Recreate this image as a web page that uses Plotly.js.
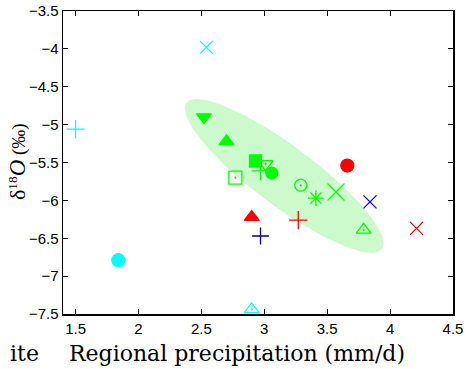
<!DOCTYPE html>
<html>
<head>
<meta charset="utf-8">
<script src="https://cdn.plot.ly/plotly-3.0.1.min.js"></script>
<style>html,body{margin:0;padding:0;background:#fff;}#chart{width:468px;height:369px;}</style>
</head>
<body>
<div id="chart"></div>
<script>
// Data points (regional precipitation mm/d, delta18O permil)
const cyanX = [2.54, 1.50, 1.84, 2.90];
const cyanY = [-3.98, -5.06, -6.79, -7.44];
const cyanSym = ['x-thin-open', 'cross-thin-open', 'circle', 'triangle-up-open-dot'];

const greenX = [2.52, 2.70, 2.93, 3.01, 2.97, 3.06, 2.77, 3.29, 3.41, 3.57, 3.79];
const greenY = [-4.90, -5.22, -5.48, -5.52, -5.61, -5.64, -5.70, -5.80, -5.97, -5.89, -6.39];
const greenSym = ['triangle-down', 'triangle-up', 'square', 'triangle-down-open-dot', 'cross-thin-open',
                  'circle', 'square-open-dot', 'circle-open-dot', 'asterisk-open', 'x-thin-open', 'triangle-up-open-dot'];
const greenSize = [13, 13, 12, 13, 13, 12, 13, 12, 13, 17, 13];

const redX = [3.66, 3.27, 4.21, 2.90];
const redY = [-5.54, -6.26, -6.37, -6.22];
const redSym = ['circle', 'cross-thin-open', 'x-thin-open', 'triangle-up'];

const blueX = [3.84];
const blueY = [-6.02];
const navyX = [2.97];
const navyY = [-6.47];

// Shaded ellipse (center and semi-axis vectors, data units)
const ellCenter = [3.158, -5.678];
const ellMajor = [0.777, -0.964];
const ellMinor = [-0.142, -0.317];

const ex = [], ey = [];
for (let i = 0; i <= 120; i++) {
  const t = 2 * Math.PI * i / 120;
  ex.push(ellCenter[0] + ellMajor[0] * Math.cos(t) + ellMinor[0] * Math.sin(t));
  ey.push(ellCenter[1] + ellMajor[1] * Math.cos(t) + ellMinor[1] * Math.sin(t));
}

const traces = [
  {x: ex, y: ey, mode: 'lines', fill: 'toself', fillcolor: '#ccfacc', line: {width: 0, color: '#ccfacc'}, hoverinfo: 'skip'},
  {x: cyanX, y: cyanY, mode: 'markers', marker: {symbol: cyanSym, size: [13, 13, 13, 13], opacity: 1, color: '#00ffff', line: {color: '#00ffff', width: 1.3}}},
  {x: greenX, y: greenY, mode: 'markers', marker: {symbol: greenSym, size: greenSize, opacity: 1, color: '#00ff00', line: {color: '#00ff00', width: 1.3}}},
  {x: redX, y: redY, mode: 'markers', marker: {symbol: redSym, size: [13, 13, 13, 13], opacity: 1, color: '#ff0000', line: {color: '#ff0000', width: 1.3}}},
  {x: blueX, y: blueY, mode: 'markers', marker: {symbol: 'x-thin-open', size: 13, opacity: 1, color: '#0000ff', line: {color: '#0000ff', width: 1.3}}},
  {x: navyX, y: navyY, mode: 'markers', marker: {symbol: 'cross-thin-open', size: 12, opacity: 1, color: '#000090', line: {color: '#000090', width: 1.3}}}
];

const axisCommon = {
  showline: true, linecolor: '#000', linewidth: 1.5, mirror: 'ticks',
  ticks: 'inside', ticklen: 5, tickwidth: 1, tickcolor: '#000',
  showgrid: false, zeroline: false,
  tickfont: {family: 'Liberation Sans, Arial, sans-serif', size: 15, color: '#000'}
};

const serif = 'DejaVu Serif, serif';

const layout = {
  width: 468, height: 369,
  margin: {l: 63, r: 15, t: 11, b: 55},
  paper_bgcolor: '#fff', plot_bgcolor: '#fff',
  showlegend: false,
  xaxis: Object.assign({}, axisCommon, {
    range: [1.4, 4.5], tickvals: [1.5, 2, 2.5, 3, 3.5, 4, 4.5], ticktext: ['1.5', '2', '2.5', '3', '3.5', '4', '4.5']
  }),
  yaxis: Object.assign({}, axisCommon, {
    range: [-7.5, -3.5], tickvals: [-7.5, -7, -6.5, -6, -5.5, -5, -4.5, -4, -3.5],
    ticktext: ['\u22127.5', '\u22127', '\u22126.5', '\u22126', '\u22125.5', '\u22125', '\u22124.5', '\u22124', '\u22123.5']
  }),
  annotations: [
    {text: 'Regional precipitation (mm/d)', xref: 'paper', yref: 'paper', x: (237 - 63) / 390, y: (314 - 353) / 303,
     xanchor: 'center', yanchor: 'middle', showarrow: false, font: {family: serif, size: 22, color: '#000'}},
    {text: 'ite', xref: 'paper', yref: 'paper', x: (41 - 63) / 390, y: (314 - 353) / 303, xanchor: 'right', yanchor: 'middle',
     showarrow: false, font: {family: serif, size: 22, color: '#000'}},
    {text: '<span style="font-size:22px">\u03b4</span><sup>18</sup><span style="font-size:23px"><i>O</i></span> (\u2030)',
     xref: 'paper', yref: 'paper', x: (17 - 63) / 390, y: (314 - 162) / 303,
     xanchor: 'center', yanchor: 'middle', textangle: -90, showarrow: false,
     font: {family: 'Liberation Serif, serif', size: 19, color: '#000'}}
  ]
};

Plotly.newPlot('chart', traces, layout, {staticPlot: true, displayModeBar: false});
</script>
</body>
</html>
